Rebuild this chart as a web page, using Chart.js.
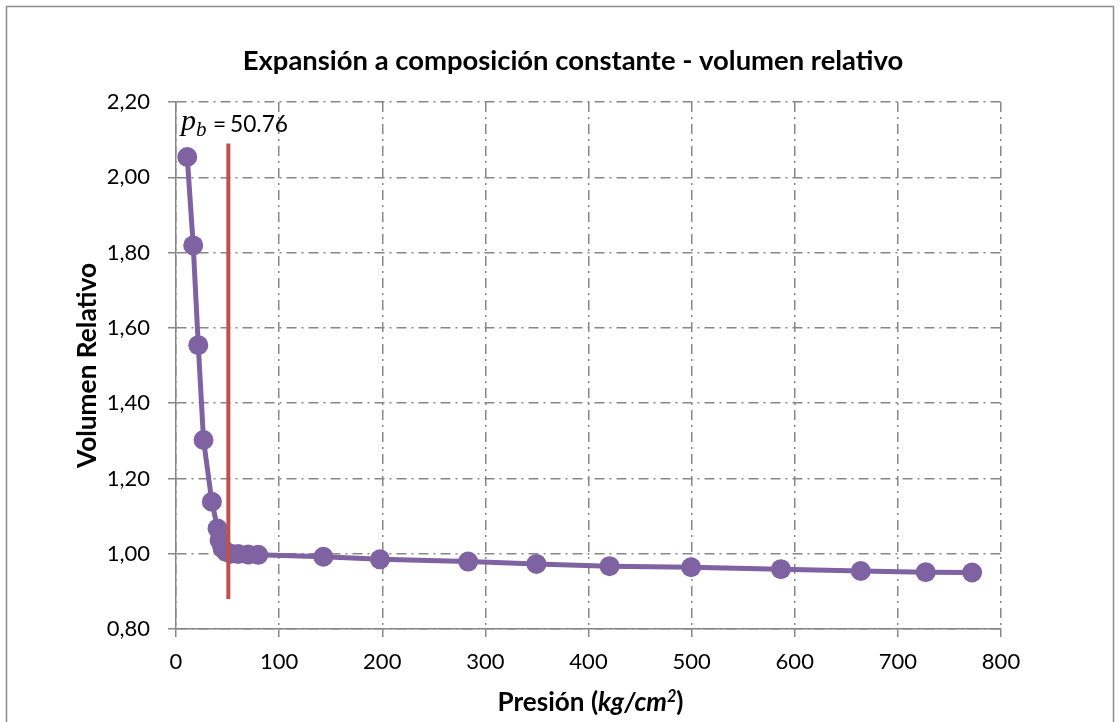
<!DOCTYPE html>
<html><head><meta charset="utf-8">
<script src="https://cdn.jsdelivr.net/npm/chart.js@4.4.0/dist/chart.umd.min.js"></script>
<style>html,body{margin:0;padding:0;background:#fff;} canvas{display:block}</style>
</head><body>
<canvas id="c" width="1120" height="722"></canvas>
<script>
// ---- data ----
const pressure  = [10.9, 16.7, 21.6, 26.7, 34.8, 40.3, 42.3, 45.0, 48.5, 53.0, 60.3, 70.0, 79.7, 142.9, 197.8, 283.3, 349.5, 420.4, 499.5, 586.6, 664.0, 727.0, 772.0];
const relVolume = [2.054, 1.819, 1.554, 1.302, 1.138, 1.067, 1.035, 1.015, 1.005, 1.000, 0.999, 0.998, 0.997, 0.992, 0.985, 0.979, 0.973, 0.967, 0.964, 0.959, 0.954, 0.951, 0.950];
const bubblePoint = 50.76;
const bubbleLineY = [0.88, 2.09];
const xTickRange = [0, 800, 100];
const yTickRange = [0.8, 2.2, 0.2];
const chartTitle = 'Expansión a composición constante - volumen relativo';
const yAxisTitle = 'Volumen Relativo';
const xAxisTitleParts = [['Presión (', 'normal'], ['kg/cm', 'italic'], ['2', 'sup'], [')', 'normal']];

const purple = '#7F62A1';
const red = '#C0504D';
const gridGray = '#878787';
const FONT = 'Lato';

// font sizes fitted to the widths the reference texts occupy
const mctx = document.createElement('canvas').getContext('2d');
function fit(text, font, target) { mctx.font = font.replace('SIZE', '100px'); return 100 * target / mctx.measureText(text).width; }
const titleSize = fit(chartTitle, 'bold SIZE ' + FONT, 661);
const yTitleSize = fit(yAxisTitle, 'bold SIZE ' + FONT, 205);
const pbSize = fit(bubblePoint.toFixed(2), 'SIZE ' + FONT, 58);
function xTitleFont(s, fs) { return s === 'normal' ? `bold ${fs}px ${FONT}` : s === 'italic' ? `italic bold ${fs}px ${FONT}` : `italic bold ${fs*0.62}px ${FONT}`; }
let xTitleW100 = 0;
xAxisTitleParts.forEach(([t, s]) => { mctx.font = xTitleFont(s, 100); xTitleW100 += mctx.measureText(t).width; });
const xTitleSize = 100 * 186 / xTitleW100;

const mainPoints = pressure.map((p, i) => ({x: p, y: relVolume[i]}));
const pbLine = bubbleLineY.map(v => ({x: bubblePoint, y: v}));

const framePlugin = {
  id: 'frame',
  beforeDraw(chart) {
    const ctx = chart.ctx;
    ctx.save();
    ctx.fillStyle = '#fff';
    ctx.fillRect(0, 0, chart.width, chart.height);
    ctx.strokeStyle = '#8c8c8c';
    ctx.lineWidth = 1.5;
    ctx.strokeRect(6.5, 6.5, chart.width - 13, chart.height + 20);
    ctx.restore();
  }
};

const labelsPlugin = {
  id: 'labels',
  afterDraw(chart) {
    const ctx = chart.ctx;
    const ca = chart.chartArea;
    ctx.save();
    ctx.fillStyle = '#000';
    ctx.textBaseline = 'alphabetic';
    // chart title
    ctx.textAlign = 'center';
    ctx.font = `bold ${titleSize}px ${FONT}`;
    ctx.fillText(chartTitle, chart.width / 2 + 13, ca.top - 32);
    // p_b label
    ctx.textAlign = 'left';
    const lx = ca.left;
    const base = ca.top + 28;
    ctx.font = 'italic 30px "Liberation Serif"';
    ctx.fillText('p', lx + 5, base);
    ctx.font = 'italic 21px "Liberation Serif"';
    ctx.fillText('b', lx + 20, base + 6);
    ctx.font = `${pbSize}px ${FONT}`;
    ctx.fillText('=', lx + 37, base + 2);
    ctx.fillText(bubblePoint.toFixed(2), lx + 54, base + 2);
    // x axis title with mixed styles
    const widths = xAxisTitleParts.map(([t, s]) => { ctx.font = xTitleFont(s, xTitleSize); return ctx.measureText(t).width; });
    const total = widths.reduce((a, b) => a + b, 0);
    let tx = (ca.left + ca.right) / 2 + 2 - total / 2;
    const tb = ca.bottom + 82;
    xAxisTitleParts.forEach(([t, s], i) => {
      ctx.font = xTitleFont(s, xTitleSize);
      ctx.fillText(t, tx, s === 'sup' ? tb - 9 : tb);
      tx += widths[i];
    });
    ctx.restore();
  }
};

new Chart(document.getElementById('c'), {
  type: 'scatter',
  data: {
    datasets: [
      { data: pbLine, showLine: true, borderColor: red, borderWidth: 4, pointRadius: 0, order: 0 },
      { data: mainPoints, showLine: true, borderColor: purple, backgroundColor: purple, borderWidth: 5,
        pointRadius: 10, pointBackgroundColor: purple, pointBorderWidth: 0, tension: 0, order: 1 }
    ]
  },
  options: {
    responsive: false,
    animation: false,
    devicePixelRatio: 1,
    layout: { padding: { left: 0, right: 119, top: 102, bottom: 0 } },
    plugins: {
      legend: { display: false },
      tooltip: { enabled: false },
      title: { display: false }
    },
    scales: {
      x: {
        type: 'linear', min: xTickRange[0], max: xTickRange[1],
        ticks: { stepSize: xTickRange[2], color: '#000', padding: 12, maxRotation: 0,
                 font: { family: FONT, size: 22 }, callback: v => String(v) },
        grid: { color: gridGray, lineWidth: 1.5, tickLength: 8, tickColor: gridGray, tickWidth: 1.5, drawTicks: true },
        border: { display: true, color: '#858585', width: 1.5, dash: [10, 5, 2, 5] },
        afterFit: s => { s.height = 93; }
      },
      y: {
        type: 'linear', min: yTickRange[0], max: yTickRange[1],
        ticks: { stepSize: yTickRange[2], color: '#000', padding: 18,
                 font: { family: FONT, size: 22 }, callback: v => v.toFixed(2).replace('.', ',') },
        grid: { color: gridGray, lineWidth: 1.5, tickLength: 8, tickColor: gridGray, tickWidth: 1.5 },
        border: { display: true, color: '#858585', width: 1.5, dash: [10, 5, 2, 5] },
        title: { display: true, text: yAxisTitle, color: '#000',
                 font: { family: FONT, size: yTitleSize, weight: 'bold', lineHeight: 1.2 },
                 padding: { top: 88 - yTitleSize * 0.6, bottom: 0 } },
        afterFit: s => { s.width = 176; }
      }
    }
  },
  plugins: [framePlugin, labelsPlugin]
});
</script>
</body></html>
